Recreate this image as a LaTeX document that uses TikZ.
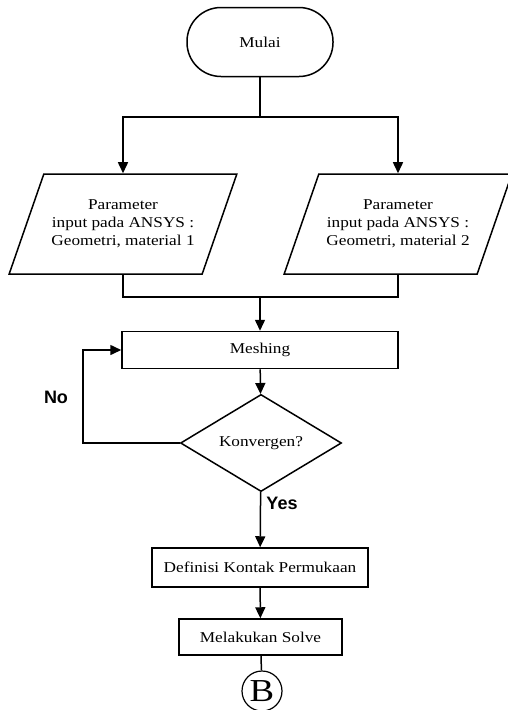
\documentclass[tikz,border=0pt]{standalone}
\usepackage{fontspec}
\setmainfont{Liberation Serif}[FakeStretch=1.15]
\newfontfamily\labelfont{Liberation Sans}
\usepackage{tikz}
\usetikzlibrary{positioning,arrows.meta,shapes.geometric}
\newcommand{\boxfont}{\fontsize{15}{18}\selectfont}

\begin{document}
\begin{tikzpicture}[x=1pt,y=-1pt,
  line width=1.5pt,
  terminal/.style={draw,rounded corners=34pt,minimum width=146pt,
                   minimum height=69pt,font=\boxfont},
  inputbox/.style={draw,trapezium,trapezium left angle=71,
                   trapezium right angle=109,trapezium stretches=true,
                   minimum width=228pt,minimum height=100pt,
                   inner xsep=4pt,inner ysep=24pt,
                   align=center,font=\boxfont},
  process/.style={draw,minimum height=37pt,inner sep=0pt,font=\boxfont},
  decision/.style={draw,diamond,minimum width=161pt,minimum height=88pt,
                   inner sep=0pt,font=\boxfont},
  connector/.style={draw,circle,minimum size=40pt,inner sep=0pt,
                    line width=1.2pt,font=\fontsize{32}{32}\selectfont},
  answer/.style={font=\labelfont\bfseries\fontsize{18}{18}\selectfont},
  arrow/.style={-{Triangle[width=10pt,length=11pt]}}
]
  \useasboundingbox (0,0) rectangle (507,710);

  \node[terminal] (mulai) at (260,42) {Mulai};
  \node[inputbox] (param1) at (123,224)
    {Parameter\\input pada ANSYS :\\Geometri, material 1};
  \node[inputbox] (param2) at (398,224)
    {Parameter\\input pada ANSYS :\\Geometri, material 2};
  \node[process,minimum width=276pt] (meshing) at (260,350) {Meshing};
  \node[decision] (konvergen) at (261,443) {Konvergen?};
  \node[process,minimum width=216pt,minimum height=39pt] (definisi)
    at (260,567.5) {Definisi Kontak Permukaan};
  \node[process,minimum width=163pt,minimum height=36pt] (solve)
    at (260.5,637) {Melakukan Solve};
  \node[connector] (B) at (262,691) {B};

  \coordinate (split) at (260,117);
  \coordinate (join) at (260,297);
  \coordinate (loop) at (83,443);

  \draw (mulai) -- (split);
  \draw[arrow] (split) -| (param1);
  \draw[arrow] (split) -| (param2);
  \draw (param1) |- (join);
  \draw (param2) |- (join);
  \draw[arrow] (join) -- (meshing);
  \draw[arrow] (meshing) -- (konvergen);
  \draw[arrow] (konvergen.west) -- (loop) |- (meshing.west);
  \draw[arrow] (konvergen) -- (definisi);
  \draw[arrow] (definisi) -- (solve);
  \draw (solve) -- (B);

  \node[answer] (no) at (56,397) {No};
  \node[answer] (yes) at (282,503) {Yes};
\end{tikzpicture}
\end{document}
